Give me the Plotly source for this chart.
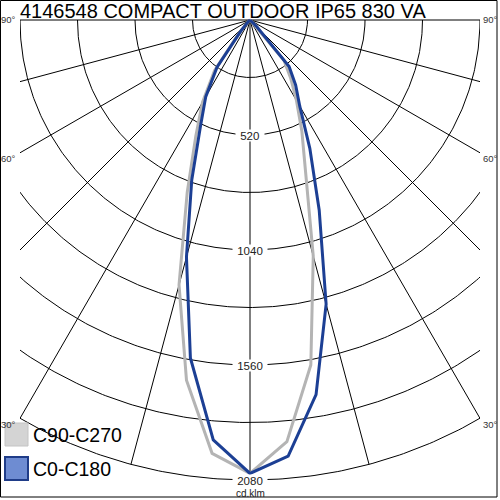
import numpy as np
import plotly.graph_objects as go

# Lichtstaerkeverteilung in cd/klm, gamma = Winkel von der Senkrechten nach unten
gamma = [0, 5, 10, 15, 20, 25, 30, 35, 40, 45, 50, 55, 60, 65, 70, 75, 80, 85, 90]
c0 = [2050, 1980, 1720, 1330, 915, 640, 450, 360, 275, 45, 10, 5, 3, 2, 1, 1, 0, 0, 0]
c180 = [2050, 1906, 1552, 1110, 770, 530, 400, 260, 60, 12, 5, 3, 2, 1, 1, 0, 0, 0, 0]
c90 = [2050, 1914, 1584, 1105, 740, 555, 420, 320, 240, 40, 10, 5, 3, 2, 1, 1, 0, 0, 0]
c270 = [2050, 1967, 1654, 1240, 830, 580, 430, 280, 80, 12, 5, 3, 2, 1, 1, 0, 0, 0, 0]

rings = [260, 520, 780, 1040, 1300, 1560, 1820, 2080]
ring_labels = [520, 1040, 1560, 2080]
spokes = [-90, -75, -60, -45, -30, -15, 0, 15, 30, 45, 60, 75, 90]
angle_labels = [90, 60, 30]

title = "4146548 COMPACT OUTDOOR IP65 830 VA"
series_names = ["C90-C270", "C0-C180"]

BLUE = "#1c3f94"
GREY = "#b4b4b4"
FONT = "Arial, Liberation Sans"

# Pixelgeometrie: Mittelpunkt (250, 20), 2080 cd/klm = 460 px
L, R, T, B = 20, 480, 15, 485
CX, CY = 250, 20
k = 2080 / 460.0


def px(p):
    return (p - L) / (R - L)


def py(p):
    return (B - p) / (B - T)


def half_curve(left, right):
    a_left = -np.radians(gamma[::-1])
    a_right = np.radians(gamma[1:])
    a = np.concatenate([a_left, a_right])
    r = np.concatenate([np.array(left[::-1], float), np.array(right[1:], float)])
    return r * np.sin(a), -r * np.cos(a)


# Gitter: Kreise und Strahlen
t = np.radians(np.linspace(-90, 90, 361))
gx, gy = [], []
for v in rings:
    gx += list(v * np.sin(t)) + [None]
    gy += list(-v * np.cos(t)) + [None]
for s in spokes:
    a = np.radians(s)
    gx += [0, rings[-1] * np.sin(a), None]
    gy += [0, -rings[-1] * np.cos(a), None]

fig = go.Figure()
fig.add_trace(go.Scatter(x=gx, y=gy, mode="lines", line=dict(color="black", width=1),
                         hoverinfo="skip", showlegend=False))

xg, yg = half_curve(c270, c90)
fig.add_trace(go.Scatter(x=xg, y=yg, mode="lines", name=series_names[0],
                         line=dict(color=GREY, width=3), showlegend=False))
xb, yb = half_curve(c180, c0)
fig.add_trace(go.Scatter(x=xb, y=yb, mode="lines", name=series_names[1],
                         line=dict(color=BLUE, width=3), showlegend=False))

annotations = []
for v in ring_labels:
    txt = str(v)
    annotations.append(dict(x=0, y=-v, xref="x", yref="y", text=txt, showarrow=False,
                            font=dict(family=FONT, size=11.5, color="#222"),
                            bgcolor="white", borderpad=0, width=6.5 * len(txt) + 8, height=11))
annotations.append(dict(x=px(CX), y=py(493), xref="paper", yref="paper", text="cd.klm",
                        showarrow=False, yanchor="middle",
                        font=dict(family=FONT, size=10, color="#222")))

# Winkelbeschriftung am Rand
for ang in angle_labels:
    a = np.radians(ang)
    yl = CY + (230 / np.tan(a) + 6 if ang < 90 else 0)
    for side in (-1, 1):
        annotations.append(dict(
            x=px(18 if side < 0 else 481), y=py(yl), xref="paper", yref="paper",
            text=f"{ang}°", showarrow=False, xanchor="right" if side < 0 else "left",
            yanchor="middle", font=dict(family=FONT, size=9.5, color="#333")))

annotations.append(dict(x=px(18), y=py(11), xref="paper", yref="paper", text=title,
                        showarrow=False, xanchor="left", yanchor="middle",
                        font=dict(family=FONT, size=20, color="black")))

# Legende
shapes = [
    dict(type="rect", xref="paper", yref="paper", x0=px(5), x1=px(28), y0=py(446), y1=py(423),
         fillcolor="#d4d4d4", line=dict(color="#c4c4c4", width=1), layer="above"),
    dict(type="rect", xref="paper", yref="paper", x0=px(5), x1=px(28), y0=py(480), y1=py(457),
         fillcolor="#6e8cd2", line=dict(color="#1f3c88", width=2), layer="above"),
    dict(type="rect", xref="paper", yref="paper", x0=px(0.5), x1=px(497), y0=py(497), y1=py(0.5),
         line=dict(color="black", width=1), layer="above"),
]
for name, yc in zip(series_names, [435, 469]):
    annotations.append(dict(x=px(31), y=py(yc), xref="paper", yref="paper", text=name,
                            showarrow=False, xanchor="left", yanchor="middle",
                            font=dict(family=FONT, size=19.5, color="black")))

fig.update_layout(
    width=500, height=500,
    margin=dict(l=L, r=500 - R, t=T, b=500 - B, pad=0),
    paper_bgcolor="white", plot_bgcolor="white",
    xaxis=dict(range=[(L - CX) * k, (R - CX) * k], visible=False, fixedrange=True),
    yaxis=dict(range=[(CY - B) * k, (CY - T) * k], visible=False, fixedrange=True),
    annotations=annotations, shapes=shapes, showlegend=False,
)
fig.write_html("out.html", config={"displayModeBar": False},
               post_script="document.body.style.margin='0';")
